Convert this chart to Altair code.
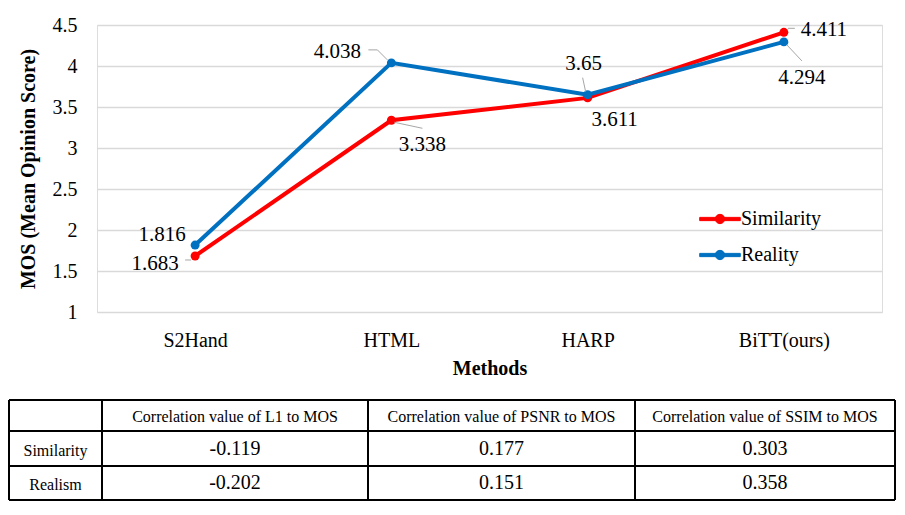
import altair as alt
import pandas as pd

# ---------------- data ----------------
methods = ["S2Hand", "HTML", "HARP", "BiTT(ours)"]
series_names = ["Similarity", "Reality"]
similarity = [1.683, 3.338, 3.611, 4.411]
reality = [1.816, 4.038, 3.65, 4.294]
y_ticks = [1, 1.5, 2, 2.5, 3, 3.5, 4, 4.5]

table_cols = ["Correlation value of L1 to MOS",
              "Correlation value of PSNR to MOS",
              "Correlation value of SSIM to MOS"]
table_rows = ["Similarity", "Realism"]
corr_similarity = [-0.119, 0.177, 0.303]
corr_realism = [-0.202, 0.151, 0.358]

# ---------------- styling / layout ----------------
FONT = "Liberation Serif"
COLORS = ["#FF0000", "#0070C0"]
PLOT_W, PLOT_H = 785, 287
label_offsets = {
    ("Similarity", "S2Hand"): (-40, 8),
    ("Reality", "S2Hand"): (-33, -10),
    ("Similarity", "HTML"): (31, 25),
    ("Reality", "HTML"): (-54, -11),
    ("Similarity", "HARP"): (27, 22),
    ("Reality", "HARP"): (-4, -31),
    ("Similarity", "BiTT(ours)"): (40, -2),
    ("Reality", "BiTT(ours)"): (18, 36),
}
leaders = [
    ("Similarity", "S2Hand", -10, 4, -4, 4),
    ("Reality", "HTML", -23, -13, -14, -13),
    ("Reality", "HTML", -14, -13, -4, -3),
    ("Similarity", "HTML", 3, 2, 31, 8),
    ("Reality", "HARP", -5, -17, -2, -3),
    ("Similarity", "BiTT(ours)", 4, -4, 11, -4),
    ("Reality", "BiTT(ours)", 3, 3, 18, 19),
]
col_widths = [93, 266, 267, 260]
row_heights = [31, 35, 34]
TABLE_X_RANGE = [-88, 798]   # pixel span of the table, relative to plot area
TABLE_TOP = 375              # pixel top of the table, relative to plot area

# ---------------- line chart ----------------
rows = []
for s, vals in zip(series_names, [similarity, reality]):
    for m, v in zip(methods, vals):
        rows.append({"series": s, "method": m, "value": v})
df = pd.DataFrame(rows)

color_scale = alt.Scale(domain=series_names, range=COLORS)
x_scale = alt.Scale(type="point", padding=0.5, domain=methods)
x_enc = alt.X("method:N", sort=methods, scale=x_scale,
              axis=alt.Axis(title="Methods", labelAngle=0, labelFont=FONT,
                            labelFontSize=20, labelColor="#000000",
                            labelPadding=18, titleFont=FONT, titleFontSize=20,
                            titleFontWeight="bold", titleColor="#000000",
                            titlePadding=8, domain=False, ticks=False,
                            tickSize=0, grid=False))
y_enc = alt.Y("value:Q",
              scale=alt.Scale(domain=[1, 4.5], nice=False, zero=False),
              axis=alt.Axis(title="MOS (Mean Opinion Score)", values=y_ticks,
                            format="~g", labelFont=FONT, labelFontSize=20,
                            labelColor="#000000", labelPadding=20,
                            titleFont=FONT, titleFontSize=20,
                            titleFontWeight="bold", titleColor="#000000",
                            titlePadding=14, domain=False, ticks=False,
                            tickSize=0, grid=True, gridColor="#d9d9d9",
                            gridWidth=1.3))

base = alt.Chart(df)

# legend symbol: a short thick line with a dot in the middle
legend_path = ("M-1,-0.08L1,-0.08L1,0.08L-1,0.08Z"
               "M0.23,0A0.23,0.23,0,1,1,-0.23,0A0.23,0.23,0,1,1,0.23,0Z")
legend = alt.Legend(
    title=None, orient="none", legendX=602, legendY=173,
    symbolType=legend_path, symbolSize=1650, symbolStrokeWidth=1,
    labelFont=FONT, labelFontSize=20, labelColor="#000000", labelOffset=0,
    rowPadding=5, padding=0)

lines = base.mark_line(strokeWidth=4).encode(
    x=x_enc, y=y_enc,
    color=alt.Color("series:N", scale=color_scale, sort=series_names,
                    legend=legend),
)

points = base.mark_point(filled=True, size=80, opacity=1).encode(
    x=alt.X("method:N", sort=methods, scale=x_scale), y="value:Q",
    color=alt.Color("series:N", scale=color_scale, sort=series_names,
                    legend=legend),
)

main_layers = [lines, points]
for (s, m), (dx, dy) in label_offsets.items():
    main_layers.append(
        base.transform_filter(
            (alt.datum.series == s) & (alt.datum.method == m)
        ).mark_text(dx=dx, dy=dy, font=FONT, fontSize=21, color="#000000",
                    align="center", baseline="middle").encode(
            x=alt.X("method:N", sort=methods, scale=x_scale), y="value:Q",
            text=alt.Text("value:Q", format="~g"))
    )
for s, m, x1, y1, x2, y2 in leaders:
    main_layers.append(
        base.transform_filter(
            (alt.datum.series == s) & (alt.datum.method == m)
        ).mark_rule(color="#a6a6a6", strokeWidth=1, xOffset=x1, yOffset=y1,
                    x2Offset=x2, y2Offset=y2).encode(
            x=alt.X("method:N", sort=methods, scale=x_scale), y="value:Q",
            x2=alt.X2("method:N"), y2=alt.Y2("value:Q"))
    )

main = alt.layer(*main_layers)

# ---------------- table ----------------
col_edges = [0]
for w in col_widths:
    col_edges.append(col_edges[-1] + w)
row_edges = [0]
for h in row_heights:
    row_edges.append(row_edges[-1] + h)
TW, TH = col_edges[-1], row_edges[-1]

def cx(c):
    return (col_edges[c] + col_edges[c + 1]) / 2

def cy(r):
    return (row_edges[r] + row_edges[r + 1]) / 2

cells = []
for i, h in enumerate(table_cols):
    cells.append({"x": cx(i + 1), "y": cy(0) + 1, "text": h, "fs": 16})
for r, (name, vals) in enumerate(zip(table_rows, [corr_similarity, corr_realism])):
    cells.append({"x": cx(0), "y": cy(r + 1) + 2, "text": name, "fs": 16})
    for c, v in enumerate(vals):
        cells.append({"x": cx(c + 1), "y": cy(r + 1), "text": f"{v:.3f}", "fs": 20})
cells_df = pd.DataFrame(cells)

xs = alt.Scale(domain=[0, TW], range=TABLE_X_RANGE, nice=False, zero=False)
ys = alt.Scale(domain=[0, TH], range=[TABLE_TOP, TABLE_TOP + TH],
               nice=False, zero=False)

vlines = pd.DataFrame({"x": col_edges, "y": [0] * len(col_edges),
                       "y2": [TH] * len(col_edges)})
hlines = pd.DataFrame({"y": row_edges, "x": [0] * len(row_edges),
                       "x2": [TW] * len(row_edges)})

t_text = alt.Chart(cells_df).mark_text(font=FONT, color="#000000",
                                       baseline="middle", align="center").encode(
    x=alt.X("x:Q", scale=xs, axis=None),
    y=alt.Y("y:Q", scale=ys, axis=None),
    text="text:N",
    size=alt.Size("fs:Q", scale=None, legend=None),
)
t_v = alt.Chart(vlines).mark_rule(color="#000000", strokeWidth=2).encode(
    x=alt.X("x:Q", scale=xs, axis=None),
    y=alt.Y("y:Q", scale=ys, axis=None), y2="y2:Q")
t_h = alt.Chart(hlines).mark_rule(color="#000000", strokeWidth=2).encode(
    y=alt.Y("y:Q", scale=ys, axis=None),
    x=alt.X("x:Q", scale=xs, axis=None), x2="x2:Q")

table = alt.layer(t_v, t_h, t_text)

chart = alt.layer(main, table).resolve_scale(
    x="independent", y="independent"
).properties(
    width=PLOT_W, height=PLOT_H,
    padding={"left": 0, "top": 7, "right": 0, "bottom": 0}
).configure_view(stroke=None).configure(background="white")

chart.save("out.html", embed_options={"renderer": "svg", "actions": False})
